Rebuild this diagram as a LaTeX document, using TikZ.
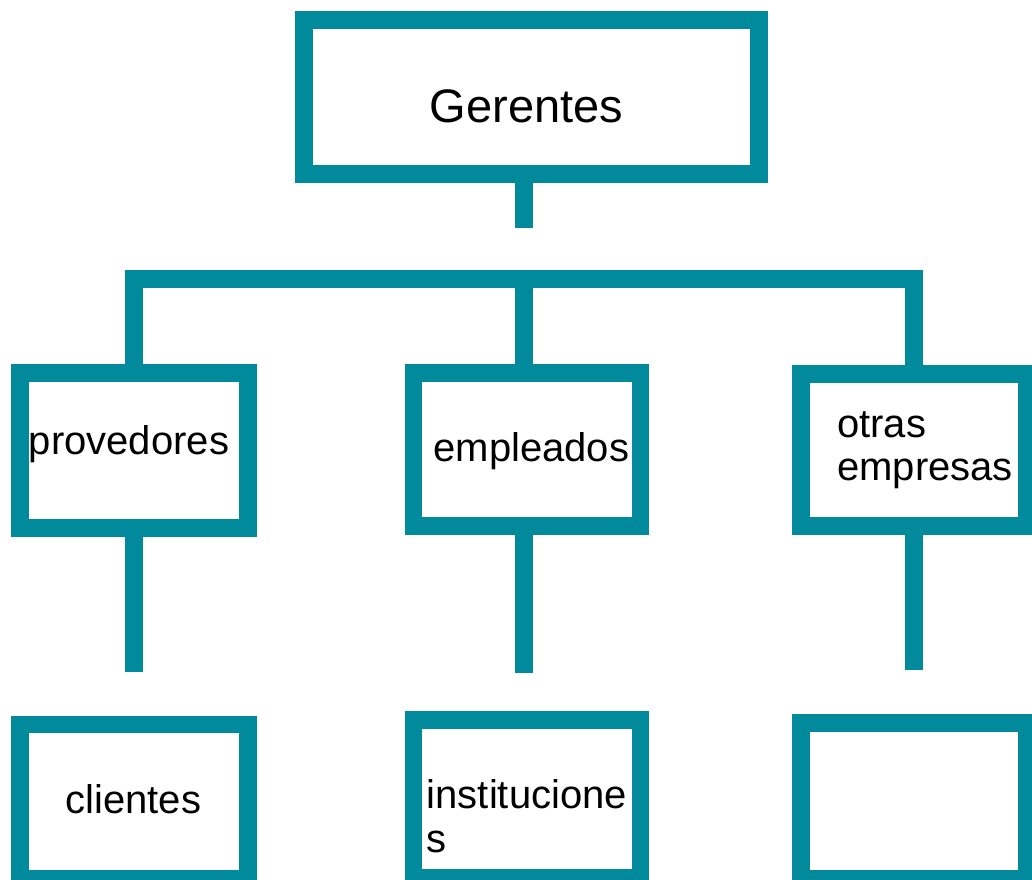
\documentclass[tikz,border=0pt]{standalone}
\usepackage{fontspec}
\setmainfont{Liberation Sans}
\definecolor{teal1}{RGB}{0,138,155}
\begin{document}
\begin{tikzpicture}[x=1pt,y=-1pt,
  box/.style={draw=teal1,line width=17.7pt,rectangle,inner sep=0pt,outer sep=0pt,fill=white},
  link/.style={draw=teal1,line width=17.7pt,line cap=butt,line join=miter},
  big/.style={font=\fontsize{47}{52}\selectfont,inner sep=0pt,anchor=base},
  lbl/.style={font=\fontsize{40}{43.4}\selectfont,inner sep=0pt,anchor=base}]
\useasboundingbox (0,0) rectangle (1032,879);
% boxes
\node[box,minimum width=454.5pt,minimum height=154.5pt] (ger) at (531.5,97) {};
\node[box,minimum width=227.5pt,minimum height=154.4pt] (prov) at (134,450.5) {};
\node[box,minimum width=226.8pt,minimum height=152.9pt] (emp) at (527,449.6) {};
\node[box,minimum width=226pt,minimum height=152pt] (otr) at (914,450) {};
\node[box,minimum width=227.5pt,minimum height=154.3pt] (cli) at (134,801.7) {};
\node[box,minimum width=226.8pt,minimum height=158.3pt] (ins) at (527,799) {};
\node[box,minimum width=226pt,minimum height=155.8pt] (blank) at (914,800.9) {};
% junction coordinates
\coordinate (gs) at (524,227.7);
\coordinate (j1) at (134,279);
\coordinate (j2) at (524,279);
\coordinate (j3) at (914,279);
\coordinate (e1) at (134,671.7);
\coordinate (e2) at (524,672.7);
\coordinate (e3) at (914,670);
% connectors
\draw[link] (ger.south -| gs) -- (gs);
\draw[link] (prov.north) -- (j1) -- (j3) -- (otr.north);
\draw[link] (j2) -- (j2 |- emp.north);
\draw[link] (prov.south) -- (e1);
\draw[link] (emp.south -| e2) -- (e2);
\draw[link] (otr.south) -- (e3);
% texts
\node[big] (tger) at (526.5,122) {Gerentes};
\node[lbl] (tprov) at (129,454) {provedores};
\node[lbl] (temp) at (531.3,461.7) {empleados};
\node[lbl,anchor=base west,align=left,font=\fontsize{40}{42.7}\selectfont] (totr) at (837,480) {otras\\empresas};
\node[lbl] (tcli) at (133.3,813.3) {clientes};
\node[lbl,anchor=base west,align=left,font=\fontsize{40}{44.4}\selectfont] (tins) at (426.6,852.7) {institucione\\s};
\end{tikzpicture}
\end{document}
